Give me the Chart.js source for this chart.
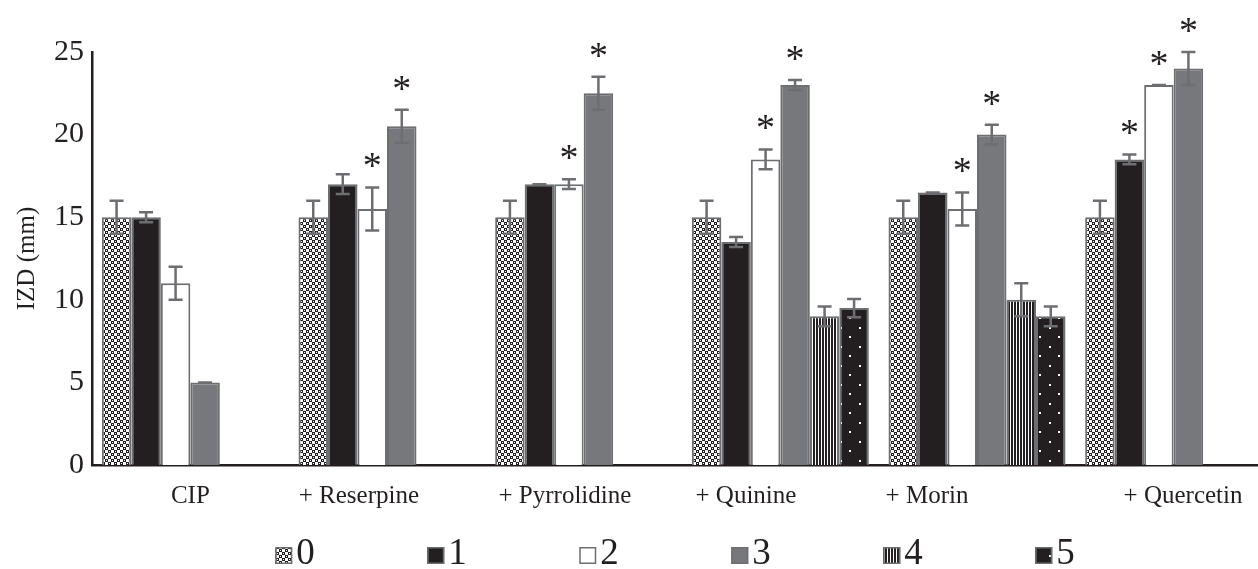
<!DOCTYPE html>
<html>
<head>
<meta charset="utf-8">
<script src="https://cdn.jsdelivr.net/npm/chart.js@4.4.1/dist/chart.umd.min.js"></script>
<style>
  html, body { margin: 0; padding: 0; overflow: hidden; background: #fff; width: 1258px; height: 569px; }
  canvas { display: block; }
</style>
</head>
<body>
<canvas id="chart" width="1350" height="569"></canvas>
<script>
// Inhibition zone diameters (mm) per treatment and concentration level
const categories = ['CIP', '+ Reserpine', '+ Pyrrolidine', '+ Quinine', '+ Morin', '+ Quercetin'];
const seriesNames = ['0', '1', '2', '3', '4', '5'];

const level0 = [15, 15, 15, 15, 15, 15];
const level1 = [15, 17, 17, 13.5, 16.5, 18.5];
const level2 = [11, 15.5, 17, 18.5, 15.5, 23];
const level3 = [5, 20.5, 22.5, 23, 20, 24];
const level4 = [null, null, null, 9, 10, null];
const level5 = [null, null, null, 9.5, 9, null];

const err0 = [1, 1, 1, 1, 1, 1];
const err1 = [0.3, 0.6, 0, 0.3, 0, 0.3];
const err2 = [1, 1.3, 0.3, 0.6, 1, 0];
const err3 = [0, 1, 1, 0.3, 0.6, 1];
const err4 = [null, null, null, 0.6, 1, null];
const err5 = [null, null, null, 0.55, 0.6, null];

// significance markers (*)
const sig0 = [0, 0, 0, 0, 0, 0];
const sig1 = [0, 0, 0, 0, 0, 1];
const sig2 = [0, 1, 1, 1, 1, 1];
const sig3 = [0, 1, 1, 1, 1, 1];
const sig4 = [0, 0, 0, 0, 0, 0];
const sig5 = [0, 0, 0, 0, 0, 0];

const yTicks = [0, 5, 10, 15, 20, 25];

const INK = '#231f20';
const EDGE = '#6d6e71';
const GREY = '#77787b';
const SERIF = '"Liberation Serif", "Times New Roman", serif';

// category label nudging, in spaces (negative = trailing, shifts left)
const labelNudge = [0, -9, -6, -11, -16, 3];

const canvas = document.getElementById('chart');
const ctx = canvas.getContext('2d');

function tile(w, h, paint) {
  const c = document.createElement('canvas');
  c.width = w; c.height = h;
  const g = c.getContext('2d');
  paint(g);
  return ctx.createPattern(c, 'repeat');
}

// checkered fill
const checkFill = tile(6, 6, g => {
  g.fillStyle = '#fff'; g.fillRect(0, 0, 6, 6);
  g.fillStyle = INK;
  g.fillRect(0, 0, 3, 3); g.fillRect(3, 3, 3, 3);
  g.fillStyle = '#fff';
  g.fillRect(1, 1, 1, 1); g.fillRect(4, 4, 1, 1);
});
// vertical stripes
const stripeFill = tile(3, 4, g => {
  g.fillStyle = '#fff'; g.fillRect(0, 0, 3, 4);
  g.fillStyle = INK; g.fillRect(0, 0, 2, 4);
});
// black with white dots
const dotFill = tile(19, 19, g => {
  g.fillStyle = INK; g.fillRect(0, 0, 19, 19);
  g.fillStyle = '#fff';
  g.fillRect(4, 4, 2, 2); g.fillRect(13, 13, 2, 2);
});

const fills = [checkFill, INK, '#ffffff', GREY, stripeFill, dotFill];
const values = [level0, level1, level2, level3, level4, level5];
const errors = [err0, err1, err2, err3, err4, err5];
const sigs = [sig0, sig1, sig2, sig3, sig4, sig5];

const datasets = seriesNames.map((name, k) => ({
  label: name,
  data: values[k],
  errors: errors[k],
  sig: sigs[k],
  backgroundColor: fills[k],
  borderColor: EDGE,
  borderWidth: 2,
  borderSkipped: 'start',
  barPercentage: 1,
  categoryPercentage: 0.9
}));

// error bars with caps, plus asterisks above significant bars
const errorBars = {
  id: 'errorBars',
  afterDatasetsDraw(chart) {
    const c = chart.ctx;
    const ys = chart.scales.y;
    c.save();
    chart.data.datasets.forEach((ds, di) => {
      const meta = chart.getDatasetMeta(di);
      meta.data.forEach((bar, i) => {
        const v = ds.data[i];
        const e = ds.errors[i];
        if (v == null || e == null) return;
        const x = bar.x;
        const top = ys.getPixelForValue(v + e);
        const bot = ys.getPixelForValue(v - e);
        c.strokeStyle = EDGE;
        c.lineWidth = 2.5;
        c.lineCap = 'butt';
        c.beginPath();
        c.moveTo(x, top); c.lineTo(x, bot);
        c.moveTo(x - 7, top); c.lineTo(x + 7, top);
        c.moveTo(x - 7, bot); c.lineTo(x + 7, bot);
        c.stroke();
        if (ds.sig[i]) {
          c.fillStyle = INK;
          c.font = '38px ' + SERIF;
          c.textAlign = 'center';
          c.textBaseline = 'alphabetic';
          c.fillText('*', x, top - 9);
        }
      });
    });
    c.restore();
  }
};

// legend row: swatch then label, evenly spaced and centred under the plot
const swatchLegend = {
  id: 'swatchLegend',
  afterDraw(chart) {
    const c = chart.ctx;
    const box = 17, gap = 4, step = 152;
    c.save();
    c.font = '37px ' + SERIF;
    const items = chart.data.datasets.map(ds => ({ ds, w: box + gap + c.measureText(ds.label).width }));
    const total = step * (items.length - 1) + items[items.length - 1].w;
    let x = chart.width / 2 - total / 2;
    const base = 564;
    items.forEach(({ ds }) => {
      c.fillStyle = ds.backgroundColor;
      c.fillRect(x, base - box, box, box);
      c.strokeStyle = EDGE;
      c.lineWidth = 1.5;
      c.strokeRect(x + 0.75, base - box + 0.75, box - 1.5, box - 1.5);
      c.fillStyle = INK;
      c.textAlign = 'left';
      c.textBaseline = 'alphabetic';
      c.fillText(ds.label, x + box + gap, base);
      x += step;
    });
    c.restore();
  }
};

function nudged(text, n) {
  const pad = '\u00a0'.repeat(Math.abs(n));
  return n < 0 ? text + pad : pad + text;
}

new Chart(ctx, {
  type: 'bar',
  data: { labels: categories, datasets },
  options: {
    responsive: false,
    animation: false,
    devicePixelRatio: 1,
    layout: { padding: { top: 52, right: 78, left: 0, bottom: 0 } },
    plugins: {
      legend: { display: false },
      tooltip: { enabled: false }
    },
    scales: {
      x: {
        grid: { display: false, drawTicks: false },
        border: { display: true, color: INK, width: 2.5 },
        ticks: {
          color: INK,
          font: { family: SERIF, size: 25 },
          padding: 16,
          maxRotation: 0,
          autoSkip: false,
          callback(value, index) { return nudged(categories[index], labelNudge[index]); }
        },
        afterFit(scale) { scale.height = 104; }
      },
      y: {
        min: 0,
        max: 25,
        afterBuildTicks(scale) { scale.ticks = yTicks.map(v => ({ value: v })); },
        grid: { display: false, drawTicks: false },
        border: { display: true, color: INK, width: 2.5 },
        ticks: { color: INK, font: { family: SERIF, size: 30 }, padding: 8 },
        title: {
          display: true,
          text: 'IZD (mm)',
          color: INK,
          font: { family: SERIF, size: 25 },
          padding: { top: 12, bottom: 0 }
        },
        afterFit(scale) { scale.width = 92; }
      }
    }
  },
  plugins: [errorBars, swatchLegend]
});
</script>
</body>
</html>
